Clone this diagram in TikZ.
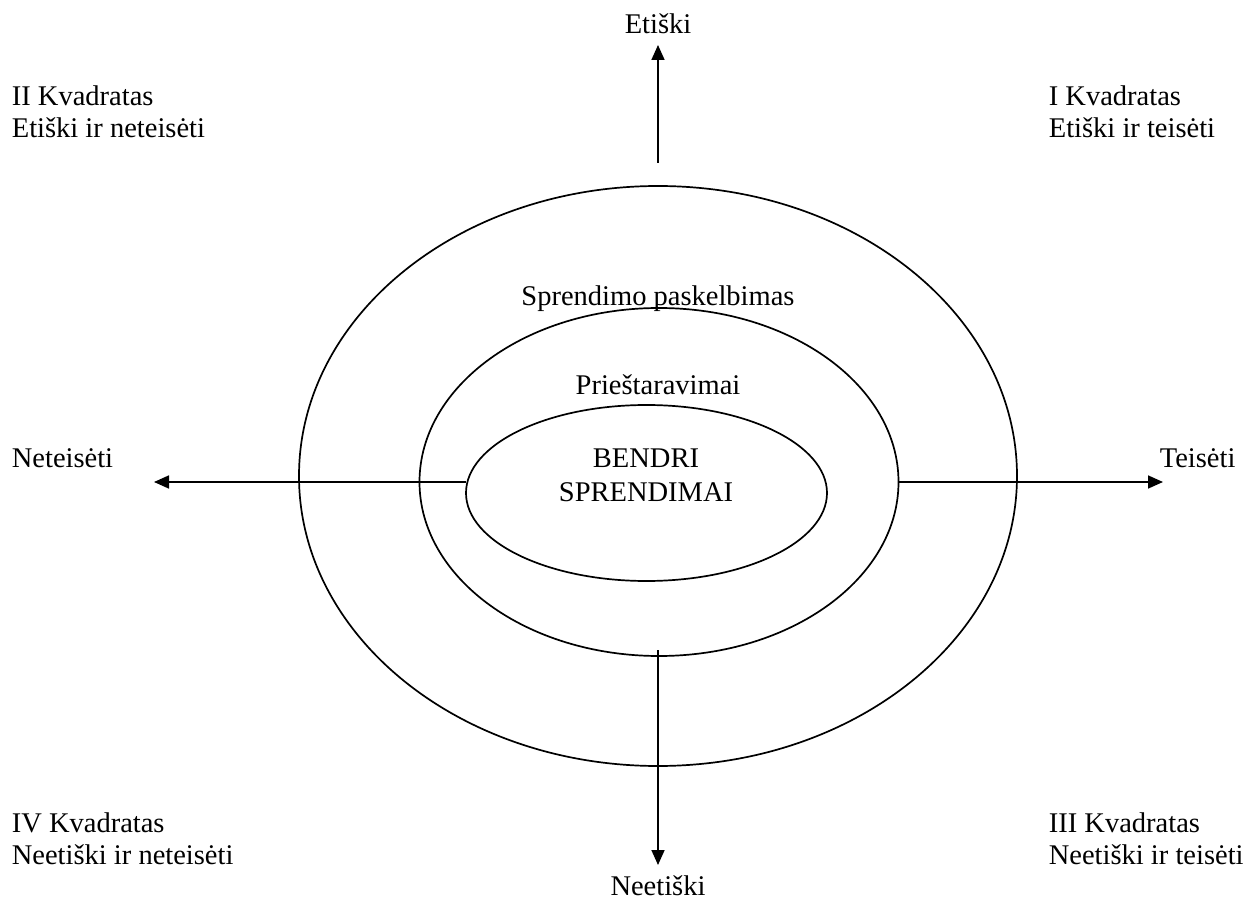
\documentclass[tikz,border=0pt]{standalone}
\usepackage{fontspec}
\setmainfont{Liberation Serif}
\usetikzlibrary{shapes.geometric,arrows.meta,positioning}

\begin{document}
\begin{tikzpicture}[x=1pt,y=-1pt,>={Triangle[length=15pt,width=13pt]},line width=1.7pt]
        \tikzstyle{lbl}=[inner sep=0pt, font=\fontsize{28.5}{32}\selectfont]
        \tikzstyle{ring}=[ellipse, draw, inner sep=0pt, outer sep=0pt]
        \useasboundingbox (0,0) rectangle (1251,901);

        % The three ellipses
        \node (outer)[ring, minimum width=718pt, minimum height=580pt] at (658,476) {};
        \node (mid)[ring, minimum width=479pt, minimum height=348pt] at (659,482) {};
        \node (inner)[ring, minimum width=361pt, minimum height=176pt] at (646.5,493) {};

        % Texts inside
        \node (publ)[lbl, anchor=base] at (658,306) {Sprendimo paskelbimas};
        \node (obj)[lbl, anchor=base] at (658,395) {Prieštaravimai};
        \node (joint1)[lbl, anchor=base] at (646,467) {BENDRI};
        \node (joint2)[lbl, anchor=base] at (646,501) {SPRENDIMAI};

        % Axis ends
        \coordinate (up0) at (658,163);
        \coordinate (up1) at (658,45);
        \coordinate (dn0) at (658,650);
        \coordinate (dn1) at (658,865);
        \coordinate (lft) at (154,482);
        \coordinate (rgt) at (1163,482);

        % Axes
        \draw[->] (up0) -- (up1);
        \draw[->] (dn0) -- (dn1);
        \draw[->] (inner.west |- lft) -- (lft);
        \draw[->] (mid.east |- rgt) -- (rgt);

        % Axis labels
        \node (eth)[lbl, anchor=base] at (658,34) {Etiški};
        \node (uneth)[lbl, anchor=base] at (658,895) {Neetiški};
        \node (illeg)[lbl, anchor=base west] at (11,467) {Neteisėti};
        \node (leg)[lbl, anchor=base west] at (1159,467) {Teisėti};

        % Quadrants
        \node (q2a)[lbl, anchor=base west] at (11,106) {II Kvadratas};
        \node (q2b)[lbl, anchor=base west] at (11,138) {Etiški ir neteisėti};
        \node (q1a)[lbl, anchor=base west] at (1048,106) {I Kvadratas};
        \node (q1b)[lbl, anchor=base west] at (1048,138) {Etiški ir teisėti};
        \node (q4a)[lbl, anchor=base west] at (11,832) {IV Kvadratas};
        \node (q4b)[lbl, anchor=base west] at (11,864) {Neetiški ir neteisėti};
        \node (q3a)[lbl, anchor=base west] at (1048,832) {III Kvadratas};
        \node (q3b)[lbl, anchor=base west] at (1048,864) {Neetiški ir teisėti};
\end{tikzpicture}
\end{document}
